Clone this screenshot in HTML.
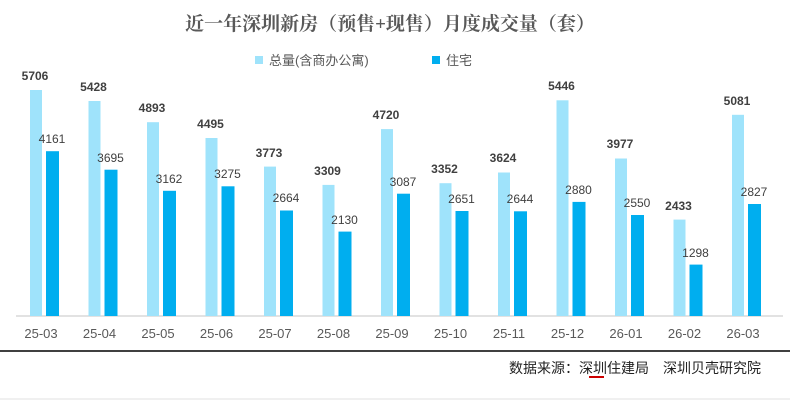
<!DOCTYPE html>
<html><head><meta charset="utf-8"><style>
html,body{margin:0;padding:0;background:#fff;}
svg{display:block;}
</style></head><body>
<svg width="790" height="401" viewBox="0 0 790 401" xmlns="http://www.w3.org/2000/svg">
<text x="390" y="30" text-anchor="middle" font-family="'Liberation Serif','Noto Serif CJK SC',serif" font-weight="bold" font-size="19" fill="#595959">近一年深圳新房（预售+现售）月度成交量（套）</text>
<rect x="255" y="56" width="8" height="8" fill="#9fe3fb"/>
<text x="269" y="65" font-family="'Liberation Sans','Noto Sans CJK SC',sans-serif" font-size="13" fill="#595959">总量(含商办公寓)</text>
<rect x="432" y="56" width="8" height="8" fill="#00aeef"/>
<text x="446" y="65" font-family="'Liberation Sans','Noto Sans CJK SC',sans-serif" font-size="13" fill="#595959">住宅</text>
<line x1="16" y1="316" x2="783" y2="316" stroke="#d9d9d9" stroke-width="1.5"/>
<g fill="#9fe3fb">
<rect x="30" y="90" width="12" height="226"/>
<rect x="88.5" y="101" width="12" height="215"/>
<rect x="147" y="122.2" width="12" height="193.8"/>
<rect x="205.5" y="138" width="12" height="178"/>
<rect x="264" y="166.6" width="12" height="149.4"/>
<rect x="322.5" y="184.9" width="12" height="131.1"/>
<rect x="381" y="129.1" width="12" height="186.9"/>
<rect x="439.5" y="183.2" width="12" height="132.8"/>
<rect x="498" y="172.5" width="12" height="143.5"/>
<rect x="556.5" y="100.3" width="12" height="215.7"/>
<rect x="615" y="158.5" width="12" height="157.5"/>
<rect x="673.5" y="219.6" width="12" height="96.4"/>
<rect x="732" y="114.8" width="12" height="201.2"/>
</g>
<g fill="#00aeef">
<rect x="46" y="151.2" width="13" height="164.8"/>
<rect x="104.5" y="169.7" width="13" height="146.3"/>
<rect x="163" y="190.8" width="13" height="125.2"/>
<rect x="221.5" y="186.3" width="13" height="129.7"/>
<rect x="280" y="210.5" width="13" height="105.5"/>
<rect x="338.5" y="231.6" width="13" height="84.4"/>
<rect x="397" y="193.7" width="13" height="122.3"/>
<rect x="455.5" y="211" width="13" height="105"/>
<rect x="514" y="211.3" width="13" height="104.7"/>
<rect x="572.5" y="201.9" width="13" height="114.1"/>
<rect x="631" y="215" width="13" height="101"/>
<rect x="689.5" y="264.6" width="13" height="51.4"/>
<rect x="748" y="204" width="13" height="112"/>
</g>
<g font-family="'Liberation Sans',sans-serif" font-size="12" text-anchor="middle" font-weight="bold" fill="#404040">
<text x="35" y="80">5706</text>
<text x="93.5" y="91">5428</text>
<text x="152" y="112">4893</text>
<text x="210.5" y="128">4495</text>
<text x="269" y="157">3773</text>
<text x="327.5" y="175">3309</text>
<text x="386" y="119">4720</text>
<text x="444.5" y="173">3352</text>
<text x="503" y="162">3624</text>
<text x="561.5" y="90">5446</text>
<text x="620" y="148">3977</text>
<text x="678.5" y="210">2433</text>
<text x="737" y="105">5081</text>
</g>
<g font-family="'Liberation Sans',sans-serif" font-size="12" text-anchor="middle" fill="#404040">
<text x="52" y="143">4161</text>
<text x="110.5" y="162">3695</text>
<text x="169" y="183">3162</text>
<text x="227.5" y="178">3275</text>
<text x="286" y="202">2664</text>
<text x="344.5" y="224">2130</text>
<text x="403" y="186">3087</text>
<text x="461.5" y="203">2651</text>
<text x="520" y="203">2644</text>
<text x="578.5" y="194">2880</text>
<text x="637" y="207">2550</text>
<text x="695.5" y="257">1298</text>
<text x="754" y="196">2827</text>
</g>
<g font-family="'Liberation Sans',sans-serif" font-size="13" text-anchor="middle" fill="#595959">
<text x="41" y="338">25-03</text>
<text x="99.5" y="338">25-04</text>
<text x="158" y="338">25-05</text>
<text x="216.5" y="338">25-06</text>
<text x="275" y="338">25-07</text>
<text x="333.5" y="338">25-08</text>
<text x="392" y="338">25-09</text>
<text x="450.5" y="338">25-10</text>
<text x="509" y="338">25-11</text>
<text x="567.5" y="338">25-12</text>
<text x="626" y="338">26-01</text>
<text x="684.5" y="338">26-02</text>
<text x="743" y="338">26-03</text>
</g>
<line x1="0" y1="351" x2="790" y2="351" stroke="#000" stroke-width="1.5"/>
<text x="761" y="373" text-anchor="end" font-family="'Liberation Sans','Noto Sans CJK SC',sans-serif" font-size="14" fill="#222">数据来源：深圳住建局　深圳贝壳研究院</text>
<line x1="589" y1="377" x2="604" y2="377" stroke="#c00" stroke-width="2"/>
<line x1="0" y1="399" x2="790" y2="399" stroke="#e0e0e0" stroke-width="1"/>
</svg>
</body></html>
